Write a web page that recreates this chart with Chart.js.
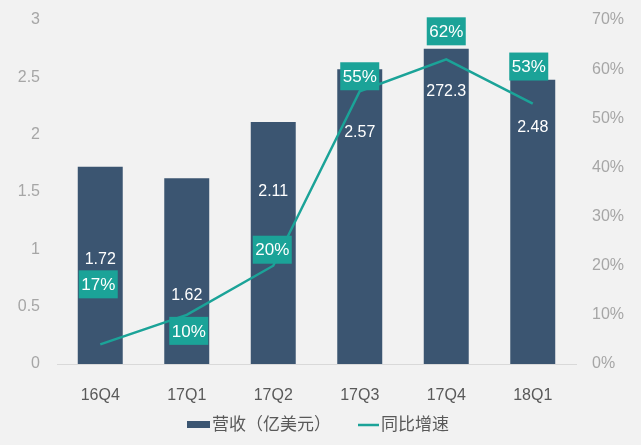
<!DOCTYPE html>
<html>
<head>
<meta charset="utf-8">
<script src="https://cdn.jsdelivr.net/npm/chart.js@4"></script>
<style>
html,body{margin:0;padding:0;background:#f2f2f2;}
#wrap{width:641px;height:445px;position:relative;}
</style>
</head>
<body>
<div id="wrap"><canvas id="c" width="641" height="445"></canvas></div>
<script>
const categories = ["16Q4","17Q1","17Q2","17Q3","17Q4","18Q1"];
const revenue = [1.72, 1.62, 2.11, 2.57, 2.75, 2.48];
const revenueLabels = ["1.72","1.62","2.11","2.57","272.3","2.48"];
const growth = [4, 10, 20, 55.5, 62, 53];
const growthLabels = ["17%","10%","20%","55%","62%","53%"];
const leftTicks = [0, 0.5, 1, 1.5, 2, 2.5, 3];
const rightTicks = [0, 10, 20, 30, 40, 50, 60, 70];
const seriesNames = ["营收（亿美元）", "同比增速"];

const FONT = '"Liberation Sans", Arial, "Noto Sans CJK SC", sans-serif';
const BAR_COLOR = '#3b5571';
const TEAL = '#1ba398';

// label placement (pixel offsets, style only)
const barLabelDy = [93, 117, 70, 63, 43, 48];
const growthLabelDx = [-2, 2, -1, 0, 0, -4];
const growthLabelDy = [-60, 16, -16, -15, -28, -37];

const labelPlugin = {
  id: 'labels',
  afterDatasetsDraw(chart) {
    const ctx = chart.ctx;
    const barMeta = chart.getDatasetMeta(0);
    const lineMeta = chart.getDatasetMeta(1);
    ctx.save();
    ctx.textAlign = 'center';
    ctx.textBaseline = 'middle';
    ctx.fillStyle = '#ffffff';
    ctx.font = '16px ' + FONT;
    barMeta.data.forEach((bar, i) => {
      ctx.fillText(revenueLabels[i], bar.x, bar.y + barLabelDy[i]);
    });
    ctx.font = '17px ' + FONT;
    lineMeta.data.forEach((pt, i) => {
      const cx = pt.x + growthLabelDx[i];
      const cy = pt.y + growthLabelDy[i];
      const w = 39, h = 28;
      ctx.fillStyle = TEAL;
      ctx.fillRect(cx - w / 2, cy - h / 2, w, h);
      ctx.fillStyle = '#ffffff';
      ctx.fillText(growthLabels[i], cx, cy + 1);
    });
    ctx.restore();
  },
  afterDraw(chart) {
    const ctx = chart.ctx;
    ctx.save();
    ctx.font = '17px ' + FONT;
    ctx.textBaseline = 'middle';
    ctx.textAlign = 'left';
    const y = 425;
    ctx.fillStyle = BAR_COLOR;
    ctx.fillRect(187, y - 4, 23, 7);
    ctx.fillStyle = '#595959';
    ctx.fillText(seriesNames[0], 212, y);
    ctx.strokeStyle = TEAL;
    ctx.lineWidth = 2.5;
    ctx.beginPath();
    ctx.moveTo(358, y);
    ctx.lineTo(379, y);
    ctx.stroke();
    ctx.fillStyle = '#595959';
    ctx.fillText(seriesNames[1], 381, y);
    ctx.restore();
  }
};

function fitY(width) {
  return function (s) { s.width = width; s.paddingTop = 0; s.paddingBottom = 0; };
}

new Chart(document.getElementById('c'), {
  data: {
    labels: categories,
    datasets: [
      {
        type: 'bar',
        label: seriesNames[0],
        data: revenue,
        backgroundColor: BAR_COLOR,
        yAxisID: 'y',
        categoryPercentage: 1,
        barPercentage: 0.52,
        order: 2
      },
      {
        type: 'line',
        label: seriesNames[1],
        data: growth,
        borderColor: TEAL,
        backgroundColor: TEAL,
        borderWidth: 2.5,
        pointRadius: 0,
        tension: 0,
        yAxisID: 'y1',
        order: 1
      }
    ]
  },
  options: {
    responsive: false,
    animation: false,
    devicePixelRatio: 1,
    layout: { padding: { top: 20, bottom: 38, left: 0, right: 0 } },
    plugins: { legend: { display: false }, tooltip: { enabled: false } },
    scales: {
      x: {
        grid: { display: false, drawTicks: false },
        border: { display: true, color: '#d9d9d9', width: 1 },
        ticks: { color: '#595959', font: { family: FONT, size: 16 }, padding: 22 },
        afterFit(s) { s.height = 43; s.paddingLeft = 0; s.paddingRight = 0; }
      },
      y: {
        position: 'left',
        min: 0, max: 3,
        afterBuildTicks(s) { s.ticks = leftTicks.map(v => ({ value: v })); },
        grid: { display: false, drawTicks: false },
        border: { display: false },
        ticks: { color: '#a6a6a6', font: { family: FONT, size: 16 }, padding: 17,
          callback: v => String(v) },
        afterFit: fitY(57)
      },
      y1: {
        position: 'right',
        min: 0, max: 70,
        afterBuildTicks(s) { s.ticks = rightTicks.map(v => ({ value: v })); },
        grid: { display: false, drawTicks: false },
        border: { display: false },
        ticks: { color: '#a6a6a6', font: { family: FONT, size: 16 }, padding: 16,
          callback: v => v + '%' },
        afterFit: fitY(65)
      }
    }
  },
  plugins: [labelPlugin]
});
</script>
</body>
</html>
